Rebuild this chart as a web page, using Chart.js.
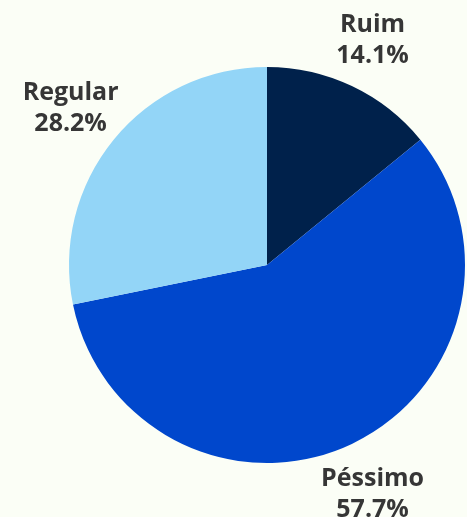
<!DOCTYPE html>
<html>
<head>
<meta charset="utf-8">
<script src="https://cdn.jsdelivr.net/npm/chart.js@4/dist/chart.umd.min.js"></script>
<style>
  html, body { margin: 0; padding: 0; background: #fbfef6; }
  #wrap { width: 467px; height: 517px; }
</style>
</head>
<body>
<div id="wrap"><canvas id="myChart"></canvas></div>
<script>
// Data
const categories = ['Ruim', 'Péssimo', 'Regular'];
const shares = [14.1, 57.7, 28.2];
const sliceColors = ['#00214b', '#0047cc', '#93d5f7'];

// Labels outside the slices, placed along each arc's middle angle
const outsideLabels = {
    id: 'outsideLabels',
    afterDatasetsDraw(chart) {
        const ctx = chart.ctx;
        const meta = chart.getDatasetMeta(0);
        ctx.save();
        ctx.font = 'bold 25px "Open Sans", "Noto Sans", sans-serif';
        ctx.fillStyle = '#363636';
        ctx.textAlign = 'center';
        ctx.textBaseline = 'middle';
        meta.data.forEach((arc, i) => {
            const p = arc.getProps(['x', 'y', 'startAngle', 'endAngle', 'outerRadius'], true);
            const mid = (p.startAngle + p.endAngle) / 2;
            const r = p.outerRadius + 53;
            const cx = p.x + Math.cos(mid) * r - 2;
            const cy = p.y + Math.sin(mid) * r + 2;
            ctx.fillText(categories[i], cx, cy - 15);
            ctx.fillText(shares[i].toFixed(1) + '%', cx, cy + 16);
        });
        ctx.restore();
    }
};

const chart = new Chart(document.getElementById('myChart'), {
    type: 'pie',
    data: {
        labels: categories,
        datasets: [{
            data: shares,
            backgroundColor: sliceColors,
            borderWidth: 0
        }]
    },
    options: {
        responsive: true,
        maintainAspectRatio: false,
        animation: false,
        layout: { padding: { left: 69, right: 2, top: 67, bottom: 54 } },
        plugins: {
            legend: { display: false },
            tooltip: { enabled: false }
        }
    },
    plugins: [outsideLabels]
});
</script>
</body>
</html>
